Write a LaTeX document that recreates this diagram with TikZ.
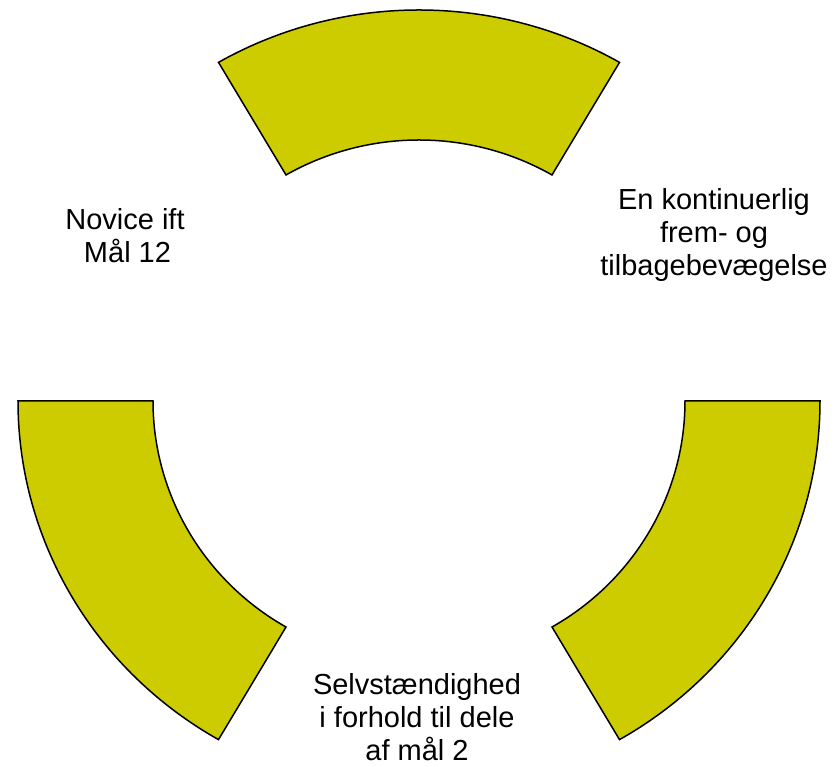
\documentclass[tikz,border=0pt]{standalone}
\usepackage{fontspec}
\setmainfont{Liberation Sans}
\definecolor{segfill}{RGB}{204,204,0}
\tikzset{
  seg/.style={fill=segfill, draw=black, line width=1.5pt, line join=miter},
  lbl/.style={align=center, font=\fontsize{29}{33}\selectfont, inner sep=0pt}
}
\begin{document}
\begin{tikzpicture}[x=1pt,y=1pt]
\useasboundingbox (0,0) rectangle (839,767);
\coordinate (c) at (419,366);
% top segment
\draw[seg] ([shift={(60:401pt and 391pt)}]c) arc[start angle=60,end angle=120,x radius=401pt,y radius=391pt]
  -- ([shift={(120:266pt and 261pt)}]c) arc[start angle=120,end angle=60,x radius=266pt,y radius=261pt] -- cycle;
% bottom-left segment
\draw[seg] ([shift={(180:401pt and 391pt)}]c) arc[start angle=180,end angle=240,x radius=401pt,y radius=391pt]
  -- ([shift={(240:266pt and 261pt)}]c) arc[start angle=240,end angle=180,x radius=266pt,y radius=261pt] -- cycle;
% bottom-right segment
\draw[seg] ([shift={(300:401pt and 391pt)}]c) arc[start angle=300,end angle=360,x radius=401pt,y radius=391pt]
  -- ([shift={(360:266pt and 261pt)}]c) arc[start angle=360,end angle=300,x radius=266pt,y radius=261pt] -- cycle;
% labels
\node[lbl] (novice) at (125,767-236) {Novice ift\\ \hspace*{5pt}Mål 12};
\node[lbl] (frem) at (714,767-235) {En kontinuerlig\\frem- og\\tilbagebevægelse};
\node[lbl] (selv) at (417,767-717) {Selvstændighed\\i forhold til dele\\af mål 2};
\end{tikzpicture}
\end{document}
